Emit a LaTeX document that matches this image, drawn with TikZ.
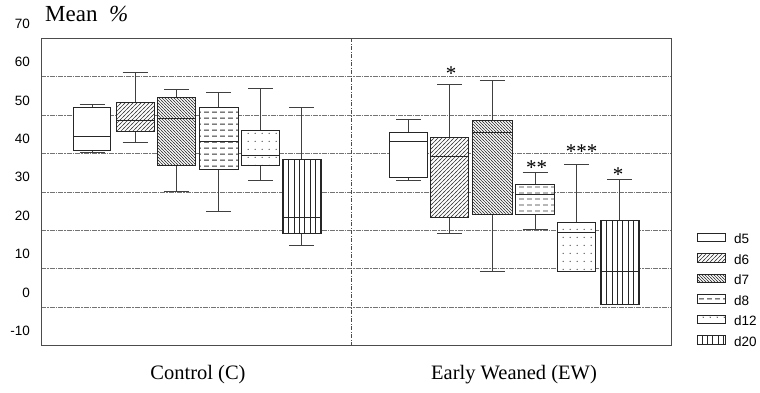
\documentclass[tikz,border=0pt]{standalone}
\usepackage{fontspec}
\setmainfont{Liberation Serif}
\newfontfamily\arialf{Liberation Sans}
\usetikzlibrary{patterns}
\pgfdeclarepatternformonly{hatchNE}{\pgfpoint{-1pt}{-1pt}}{\pgfpoint{5pt}{5pt}}{\pgfpoint{4pt}{4pt}}{\pgfsetlinewidth{0.6pt}\pgfpathmoveto{\pgfpoint{-1pt}{-1pt}}\pgfpathlineto{\pgfpoint{5pt}{5pt}}\pgfusepath{stroke}}
\pgfdeclarepatternformonly{hatchNW}{\pgfpoint{-1pt}{-1pt}}{\pgfpoint{4pt}{4pt}}{\pgfpoint{3pt}{3pt}}{\pgfsetlinewidth{0.55pt}\pgfpathmoveto{\pgfpoint{-1pt}{4pt}}\pgfpathlineto{\pgfpoint{4pt}{-1pt}}\pgfusepath{stroke}}
\pgfdeclarepatternformonly{dashrows}{\pgfpointorigin}{\pgfpoint{7.5pt}{6.4pt}}{\pgfpoint{7.5pt}{6.4pt}}{\pgfsetlinewidth{1pt}\pgfpathmoveto{\pgfpoint{1.2pt}{3.2pt}}\pgfpathlineto{\pgfpoint{6.2pt}{3.2pt}}\pgfusepath{stroke}}
\pgfdeclarepatternformonly{sparsedots}{\pgfpointorigin}{\pgfpoint{7pt}{8pt}}{\pgfpoint{7pt}{8pt}}{\pgfpathcircle{\pgfpoint{3.5pt}{4pt}}{0.7pt}\pgfusepath{fill}}
\pgfdeclarepatternformonly{vstripes}{\pgfpoint{0pt}{-0.5pt}}{\pgfpoint{5.3pt}{5.5pt}}{\pgfpoint{5.3pt}{5pt}}{\pgfsetlinewidth{0.9pt}\pgfpathmoveto{\pgfpoint{2.6pt}{-0.5pt}}\pgfpathlineto{\pgfpoint{2.6pt}{5.5pt}}\pgfusepath{stroke}}
% style, xleft, xright, boxtop, boxbottom, median, upper cap, lower cap
\newcommand{\bxplot}[8]{%
  \pgfmathsetmacro{\bxmid}{(#2+#3)/2}%
  \draw[whisk] (\bxmid,#4) -- (\bxmid,#7) ({\bxmid-12.5},#7) -- ({\bxmid+12.5},#7);
  \draw[whisk] (\bxmid,#5) -- (\bxmid,#8) ({\bxmid-12.5},#8) -- ({\bxmid+12.5},#8);
  \fill[white] (#2,#4) rectangle (#3,#5);
  \path[#1] (#2,#4) rectangle (#3,#5);
  \draw[boxline] (#2,#4) rectangle (#3,#5);
  \draw[boxline] (#2,#6) -- (#3,#6);
}
\newcommand{\legitem}[4]{%
  \fill[white] (697,{#1-4.3}) rectangle (725,{#1+4.3});
  \path[#2] (697,{#1-4.3}) rectangle (725,{#1+4.3});
  \draw[boxline,line width=0.7pt] (697,{#1-4.3}) rectangle (725,{#1+4.3});
  \node[legtext] (#4) at (734,{#1+1.5}) {#3};
}
\begin{document}
\begin{tikzpicture}[x=1pt,y=-1pt,
  grid/.style={black!55,line width=0.6pt,dash pattern=on 5pt off 1pt on 1.5pt off 1pt},
  frame/.style={black!70,line width=0.8pt},
  divider/.style={black!70,line width=0.7pt,dash pattern=on 4pt off 1.5pt on 1pt off 1.5pt},
  whisk/.style={black!75,line width=0.8pt},
  boxline/.style={black!85,line width=0.9pt},
  tick/.style={font=\arialf\fontsize{13.5}{16}\selectfont,anchor=east,inner sep=0pt},
  legtext/.style={font=\arialf\fontsize{13.5}{16}\selectfont,anchor=west,inner sep=0pt},
  title/.style={font=\fontsize{20.5}{24}\selectfont,inner sep=0pt},
  star/.style={font=\fontsize{21}{24}\selectfont,inner sep=0pt},
  pd5/.style={fill=white},
  pd6/.style={pattern=hatchNE,pattern color=black!75},
  pd7/.style={pattern=hatchNW,pattern color=black!75},
  pd8/.style={pattern=dashrows,pattern color=black!80},
  pd12/.style={pattern=sparsedots,pattern color=black!80},
  pd20/.style={pattern=vstripes,pattern color=black!85}]
\useasboundingbox (0,0) rectangle (760,392);
% grid lines
\foreach \k in {1,...,7}
  \draw[grid] (41,{38.3+38.4*\k}) -- (671,{38.3+38.4*\k});
\draw[divider] (351.7,38.3) -- (351.7,346);
\draw[frame] (41,38.3) rectangle (671,345.3);
% tick labels
\foreach \v [count=\i from 0] in {70,60,50,40,30,20,10,0,-10}
  \node[tick] (tick\i) at (30,{23.6+38.4*\i}) {\v};
\node[font=\fontsize{23}{26}\selectfont,anchor=base west,inner sep=0pt] (ylab) at (45,21.7) {Mean~~{\itshape\%}};
% Control group
\bxplot{pd5}{73.3}{110.7}{107.3}{150}{136}{104}{152.7}
\bxplot{pd6}{116}{154.3}{102.3}{131.7}{120}{72.7}{142.3}
\bxplot{pd7}{157.5}{195.7}{97}{165.5}{118.3}{89}{191.7}
\bxplot{pd8}{199}{238.7}{107.3}{169}{141.7}{92.3}{211}
\bxplot{pd12}{241.7}{279.7}{130.7}{165.7}{155}{88.7}{180}
\bxplot{pd20}{282.7}{321}{159}{233.3}{217.7}{107.7}{245}
% Early weaned group
\bxplot{pd5}{389.3}{427.7}{132.3}{177.7}{141.7}{119}{180}
\bxplot{pd6}{430.7}{468.3}{137.7}{217.3}{156.7}{84}{233.3}
\bxplot{pd7}{472.3}{512.3}{120}{214}{132.7}{80}{271.7}
\bxplot{pd8}{515.7}{554.3}{184.3}{214}{194.3}{172.3}{229.3}
\bxplot{pd12}{557.3}{595.7}{222.3}{271}{232.7}{164.3}{271}
\bxplot{pd20}{600.7}{639}{220.7}{304.3}{271}{179.3}{304.3}
% significance stars
\node[star] (s6) at (451,74) {*};
\node[star] (s8) at (536.7,168) {**};
\node[star] (s12) at (581.7,152) {***};
\node[star] (s20) at (618,175) {*};
% legend
\legitem{237.5}{pd5}{d5}{l5}
\legitem{258}{pd6}{d6}{l6}
\legitem{278.5}{pd7}{d7}{l7}
\legitem{299}{pd8}{d8}{l8}
\legitem{319.5}{pd12}{d12}{l12}
\legitem{340}{pd20}{d20}{l20}
% group labels
\node[title] (gc) at (198,375) {Control (C)};
\node[title] (gew) at (514,375) {Early Weaned (EW)};
\end{tikzpicture}
\end{document}
